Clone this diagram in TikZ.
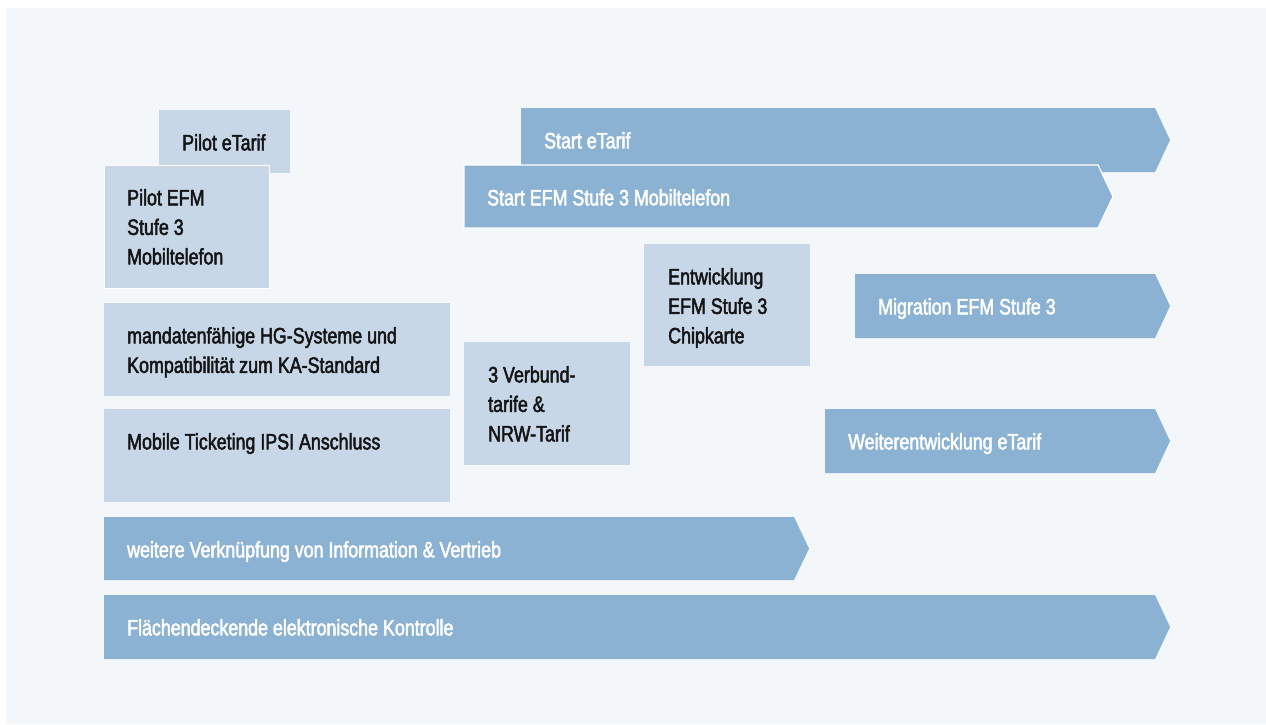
\documentclass[tikz,border=0pt]{standalone}
\usepackage{fontspec}
\setmainfont{Liberation Sans}[FakeStretch=0.8,FakeBold=2.2]
\usepackage{tikz}
\usetikzlibrary{positioning}
\definecolor{backdrop} {HTML}{F3F7FA}
\definecolor{lightbox} {HTML}{C8D7E8}
\definecolor{steel}    {HTML}{8BB2D2}
\definecolor{ink}      {HTML}{141414}
\tikzset{
  every node/.style={font=\fontsize{22.3}{29.5}\selectfont},
  % --- shapes
  box/.style   = {fill=lightbox, anchor=north west, inner sep=0pt},
  pfeil/.style = {fill=steel},
  ontop/.style = {draw=white, line width=1.2pt},
  % --- texts
  txt/.style   = {anchor=north west, inner sep=0pt, align=left, text=ink},
  wtxt/.style  = {txt, text=white},
}

\begin{document}
\begin{tikzpicture}[x=1pt,y=-1pt]
  \useasboundingbox (0,0) rectangle (1266,724);
  \fill[backdrop] (6,8) rectangle (1266,724);

  % pilots
  \node[box, minimum width=131pt, minimum height=63pt] (pilotEtarifBox) at (159,110) {};
  \node[txt, below right=24pt and 23pt of pilotEtarifBox.north west] (pilotEtarif) {Pilot eTarif};
  \node[box, ontop, minimum width=165pt, minimum height=123pt] (pilotEfmBox) at (104,165) {};
  \node[txt, below right=24pt and 23pt of pilotEfmBox.north west] (pilotEfm)
    {Pilot EFM\\Stufe 3\\Mobiltelefon};

  \node[box, minimum width=346pt, minimum height=93pt] (mandatBox) at (104,303) {};
  \node[txt, below right=24pt and 23pt of mandatBox.north west] (mandat)
    {mandatenfähige HG-Systeme und\\Kompatibilität zum KA-Standard};
  \node[box, minimum width=346pt, minimum height=93pt] (mobileBox) at (104,409) {};
  \node[txt, below right=24pt and 23pt of mobileBox.north west] (mobile)
    {Mobile Ticketing IPSI Anschluss};

  \node[box, minimum width=166pt, minimum height=123pt] (verbundBox) at (464,342) {};
  \node[txt, below right=24pt and 24pt of verbundBox.north west] (verbund)
    {3 Verbund-\\tarife \&\\NRW-Tarif};
  \node[box, minimum width=166pt, minimum height=122pt] (chipBox) at (644,244) {};
  \node[txt, below right=24pt and 24pt of chipBox.north west] (chip)
    {Entwicklung\\EFM Stufe 3\\Chipkarte};

  % arrows
  \fill[pfeil] (521,108) coordinate (startEtarifC) -- (1155,108) -- (1170,140)
    -- (1155,172) -- (521,172) -- cycle;
  \node[wtxt, below right=24pt and 23pt of startEtarifC] (startEtarif) {Start eTarif};
  \filldraw[pfeil, ontop] (464,165) coordinate (startEfmC) -- (1098,165) -- (1113,196.5)
    -- (1098,228) -- (464,228) -- cycle;
  \node[wtxt, below right=24pt and 23pt of startEfmC] (startEfm) {Start EFM Stufe 3 Mobiltelefon};

  \fill[pfeil] (855,274) coordinate (migrationC) -- (1155,274) -- (1170,306)
    -- (1155,338) -- (855,338) -- cycle;
  \node[wtxt, below right=24pt and 23pt of migrationC] (migration) {Migration EFM Stufe 3};
  \fill[pfeil] (825,409) coordinate (weiterC) -- (1155,409) -- (1170,441)
    -- (1155,473) -- (825,473) -- cycle;
  \node[wtxt, below right=24pt and 23pt of weiterC] (weiter) {Weiterentwicklung eTarif};

  \fill[pfeil] (104,517) coordinate (vertriebC) -- (794,517) -- (809,548.5)
    -- (794,580) -- (104,580) -- cycle;
  \node[wtxt, below right=24pt and 23pt of vertriebC] (vertrieb)
    {weitere Verknüpfung von Information \& Vertrieb};
  \fill[pfeil] (104,595) coordinate (kontrolleC) -- (1155,595) -- (1170,627)
    -- (1155,659) -- (104,659) -- cycle;
  \node[wtxt, below right=24pt and 23pt of kontrolleC] (kontrolle)
    {Flächendeckende elektronische Kontrolle};
\end{tikzpicture}
\end{document}
